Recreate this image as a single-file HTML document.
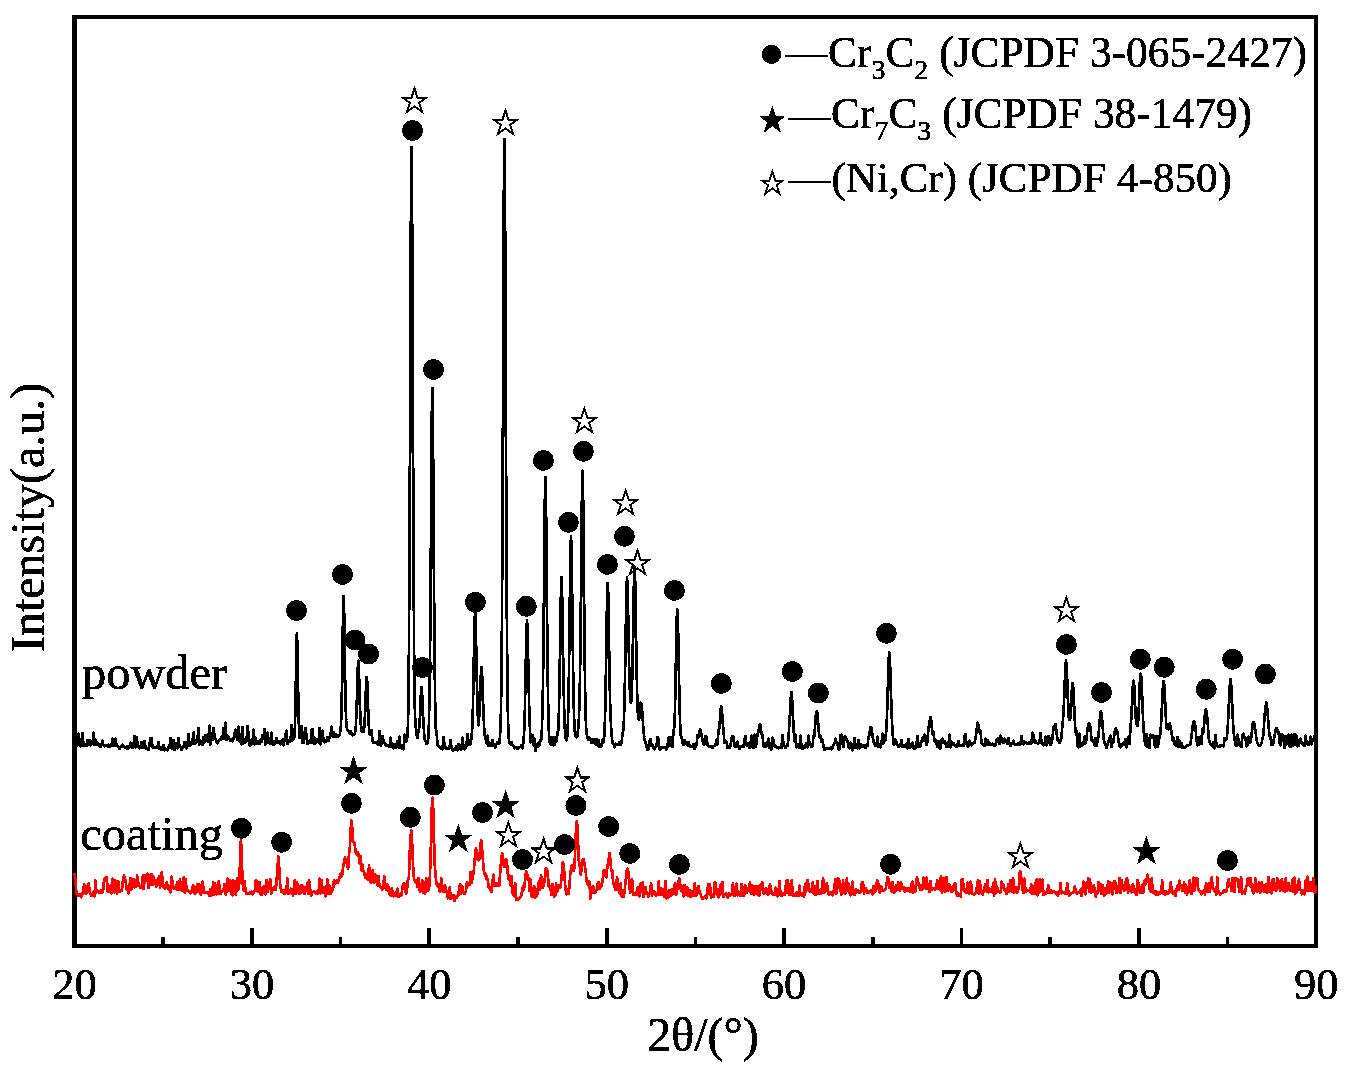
<!DOCTYPE html>
<html><head><meta charset="utf-8"><title>XRD</title>
<style>
html,body{margin:0;padding:0;background:#fff;}
body{width:1348px;height:1071px;overflow:hidden;}
svg{display:block;}
.t{font-family:"Liberation Serif",serif;fill:#000;stroke:#000;stroke-width:0.55px;}
</style></head><body>
<svg width="1348" height="1071" viewBox="0 0 1348 1071">
<defs><filter id="bin" x="0" y="0" width="100%" height="100%" filterUnits="userSpaceOnUse" color-interpolation-filters="sRGB">
<feComponentTransfer><feFuncR type="discrete" tableValues="0 1"/><feFuncG type="discrete" tableValues="0 1"/><feFuncB type="discrete" tableValues="0 1"/></feComponentTransfer>
</filter></defs>
<g filter="url(#bin)">
<rect x="0" y="0" width="1348" height="1071" fill="#fff"/>
<rect x="72" y="15" width="1246" height="4"/>
<rect x="72" y="944" width="1246" height="4"/>
<rect x="72" y="15" width="5" height="933"/>
<rect x="1314" y="15" width="4" height="933"/>
<polyline fill="none" stroke="#000" stroke-width="2.7" stroke-linejoin="round" points="74.5,733.5 75.5,744.9 76.5,746.5 77.5,745.2 78.5,733.7 79.5,744.5 80.5,746.5 81.5,745.2 82.5,732.8 83.5,745.6 84.5,745.4 85.5,744.7 86.5,746.0 87.5,740.2 88.5,744.5 89.5,740.3 90.5,745.6 91.5,742.4 92.5,743.9 93.5,732.7 94.5,745.1 95.5,739.4 96.5,745.1 97.5,742.9 98.5,745.3 99.5,744.9 100.5,746.8 101.5,744.7 102.5,740.6 103.5,745.4 104.5,746.5 105.5,745.6 106.5,745.1 107.5,746.5 108.5,744.7 109.5,746.7 110.5,746.4 111.5,745.3 112.5,738.4 113.5,745.8 114.5,744.0 115.5,738.4 116.5,746.0 117.5,745.7 118.5,747.0 119.5,749.0 120.5,746.9 121.5,746.7 122.5,744.5 123.5,746.5 124.5,747.1 125.5,747.5 126.5,748.5 127.5,746.1 128.5,748.4 129.5,746.8 130.5,742.4 131.5,747.3 132.5,748.0 133.5,745.1 134.5,735.9 135.5,747.6 136.5,736.9 137.5,743.4 138.5,747.6 139.5,748.3 140.5,747.9 141.5,741.9 142.5,746.6 143.5,748.0 144.5,740.9 145.5,748.0 146.5,748.4 147.5,748.3 148.5,749.6 149.5,744.8 150.5,737.8 151.5,737.9 152.5,747.1 153.5,747.7 154.5,747.1 155.5,747.9 156.5,747.0 157.5,747.5 158.5,742.0 159.5,748.8 160.5,747.2 161.5,750.0 162.5,747.2 163.5,744.9 164.5,750.3 165.5,748.6 166.5,749.2 167.5,750.3 168.5,746.7 169.5,747.9 170.5,738.2 171.5,748.2 172.5,748.6 173.5,740.0 174.5,749.9 175.5,743.0 176.5,746.0 177.5,748.2 178.5,738.2 179.5,746.8 180.5,746.3 181.5,749.8 182.5,748.2 183.5,746.9 184.5,741.9 185.5,746.8 186.5,748.2 187.5,744.9 188.5,733.8 189.5,746.0 190.5,745.4 191.5,744.1 192.5,740.8 193.5,732.3 194.5,744.2 195.5,742.9 196.5,742.4 197.5,738.7 198.5,727.9 199.5,744.6 200.5,741.5 201.5,743.0 202.5,744.9 203.5,736.9 204.5,742.3 205.5,734.9 206.5,741.0 207.5,734.5 208.5,741.7 209.5,725.4 210.5,744.6 211.5,733.6 212.5,739.9 213.5,728.1 214.5,736.2 215.5,739.4 216.5,742.1 217.5,743.2 218.5,741.0 219.5,740.2 220.5,739.9 221.5,736.5 222.5,738.2 223.5,728.1 224.5,739.2 225.5,722.6 226.5,740.1 227.5,737.0 228.5,736.5 229.5,739.0 230.5,741.1 231.5,739.4 232.5,741.5 233.5,739.1 234.5,733.2 235.5,729.3 236.5,735.6 237.5,739.9 238.5,726.5 239.5,741.5 240.5,740.2 241.5,744.7 242.5,727.2 243.5,743.3 244.5,741.1 245.5,742.3 246.5,740.8 247.5,726.1 248.5,734.0 249.5,745.6 250.5,744.9 251.5,740.6 252.5,743.3 253.5,729.4 254.5,744.4 255.5,738.2 256.5,743.8 257.5,741.2 258.5,741.7 259.5,743.9 260.5,739.3 261.5,741.8 262.5,735.3 263.5,738.3 264.5,729.0 265.5,744.7 266.5,742.6 267.5,732.7 268.5,742.6 269.5,740.9 270.5,744.1 271.5,732.7 272.5,743.3 273.5,744.6 274.5,744.0 275.5,742.0 276.5,737.8 277.5,743.2 278.5,741.7 279.5,741.3 280.5,744.6 281.5,741.3 282.5,739.4 283.5,745.3 284.5,739.2 285.5,734.6 286.5,730.4 287.5,744.1 288.5,742.5 289.5,740.6 290.5,741.4 291.5,724.8 292.5,740.2 292.9,739.9 293.4,739.4 293.5,739.3 293.9,739.1 294.4,736.5 294.5,735.4 294.9,727.3 295.4,708.0 295.5,702.7 295.9,678.0 296.4,647.5 296.5,642.9 296.9,633.3 297.4,647.1 297.5,652.3 297.9,676.9 298.4,705.9 298.5,710.5 298.9,725.8 299.4,736.5 299.5,737.9 299.9,737.3 300.4,733.9 300.5,733.0 300.9,730.3 301.5,725.8 302.5,743.1 303.5,743.1 304.5,733.9 305.5,728.0 306.5,735.3 307.5,744.1 308.5,742.1 309.5,742.1 310.5,743.1 311.5,730.3 312.5,729.0 313.5,743.4 314.5,737.5 315.5,743.6 316.5,739.5 317.5,741.6 318.5,742.6 319.5,728.2 320.5,744.4 321.5,740.7 322.5,730.6 323.5,739.9 324.5,742.2 325.5,741.9 326.5,739.7 327.5,737.0 328.5,740.8 329.5,737.7 330.5,734.4 331.5,726.4 332.5,736.4 333.5,732.4 334.5,736.7 335.5,733.9 336.5,736.5 337.5,735.9 338.5,736.2 339.1,735.6 339.5,735.0 339.6,734.8 340.1,732.9 340.5,730.1 340.6,729.3 341.1,721.9 341.5,710.1 341.6,705.8 342.1,677.9 342.5,649.5 342.6,642.3 343.1,610.3 343.5,597.5 343.6,596.2 344.1,610.0 344.5,634.7 344.6,641.9 345.1,677.0 345.5,699.5 345.6,704.0 346.1,719.7 346.5,726.0 346.6,727.0 347.1,729.7 347.5,730.4 347.6,730.5 348.1,730.7 348.5,730.8 349.5,733.4 350.5,730.8 351.5,733.0 352.5,735.2 353.5,734.4 353.8,734.5 354.3,734.4 354.5,734.2 354.8,733.4 355.3,731.0 355.5,729.4 355.8,725.9 356.3,716.5 356.5,711.2 356.8,701.7 357.3,683.6 357.5,676.6 357.8,667.3 358.3,660.9 358.5,660.7 358.8,666.7 359.3,683.7 359.5,691.8 359.8,701.9 360.3,715.4 360.5,719.1 360.8,724.4 361.3,730.0 361.5,731.5 361.8,730.8 362.2,729.3 362.3,728.8 362.5,727.8 362.7,728.9 362.8,729.4 363.2,731.1 363.5,731.8 363.7,731.2 364.2,727.7 364.5,723.9 364.7,720.3 365.2,708.4 365.5,699.9 365.7,694.4 366.2,682.6 366.5,678.7 366.7,677.0 367.2,681.5 367.5,687.5 367.7,693.6 368.2,710.0 368.5,719.3 368.7,723.6 369.2,731.3 369.5,734.0 369.7,734.2 370.2,732.9 370.5,731.4 370.7,731.2 371.2,730.6 371.5,730.1 372.5,741.1 373.5,742.7 374.5,742.4 375.5,742.3 376.5,742.3 377.5,744.4 378.5,744.1 379.5,731.0 380.5,745.7 381.5,744.0 382.5,736.2 383.5,740.4 384.5,743.3 385.5,745.3 386.5,744.6 387.5,745.6 388.5,746.6 389.5,747.0 390.5,737.5 391.5,747.2 392.5,743.6 393.5,748.5 394.5,744.3 395.5,748.0 396.5,747.3 397.5,741.0 398.5,747.4 399.5,736.5 400.5,747.9 401.5,747.5 402.5,748.6 403.5,749.6 404.5,734.3 405.5,742.0 406.5,740.9 407.0,739.7 407.5,735.5 408.0,723.1 408.5,695.7 409.0,637.6 409.5,546.9 410.0,430.1 410.5,298.7 411.0,190.0 411.5,146.9 412.0,189.5 412.5,297.6 413.0,430.1 413.5,549.0 414.0,638.0 414.5,693.7 415.0,715.8 415.5,722.4 416.0,730.0 416.5,734.8 417.0,736.6 417.5,737.7 418.0,734.6 418.5,730.4 419.0,729.8 419.5,725.1 420.0,714.3 420.5,702.2 421.0,691.7 421.5,687.1 422.0,691.8 422.5,702.5 423.0,713.8 423.5,723.2 424.0,732.1 424.5,738.2 425.0,740.4 425.5,741.1 426.0,742.6 426.5,743.8 426.8,743.6 427.3,743.0 427.5,742.5 427.8,741.4 428.3,737.9 428.5,735.4 428.8,726.8 429.3,705.2 429.5,693.0 429.8,674.7 430.3,626.6 430.5,601.3 430.8,556.5 431.3,477.5 431.5,448.6 431.8,413.4 432.3,387.8 432.5,392.8 432.8,413.9 433.3,478.3 433.5,509.6 433.8,555.8 434.3,623.6 434.5,645.3 434.8,676.1 435.3,712.7 435.5,723.0 435.8,728.7 436.3,731.2 436.5,730.6 436.8,735.3 437.3,742.1 437.5,744.6 437.8,745.3 438.5,746.6 439.5,746.9 440.5,748.3 441.5,748.6 442.5,749.5 443.5,737.0 444.5,744.8 445.5,748.5 446.5,748.0 447.5,749.0 448.5,749.1 449.5,747.6 450.5,739.9 451.5,747.3 452.5,750.4 453.5,750.0 454.5,749.7 455.5,748.1 456.5,746.1 457.5,750.5 458.5,744.0 459.5,747.0 460.5,749.5 461.5,749.2 462.5,737.3 463.5,748.0 464.5,749.4 465.5,747.9 466.5,745.4 467.5,733.8 468.5,744.7 469.5,744.3 469.6,744.3 470.1,744.6 470.5,744.7 470.6,744.0 471.1,740.2 471.5,736.1 471.6,735.6 472.1,730.6 472.5,722.5 472.6,719.2 473.1,698.5 473.5,677.6 473.6,671.8 474.1,643.0 474.5,623.7 474.6,620.4 475.1,612.6 475.5,619.1 475.6,622.0 476.0,638.3 476.1,643.3 476.5,664.3 476.6,669.6 477.0,689.0 477.1,693.3 477.5,707.3 477.6,710.4 478.0,719.8 478.1,721.6 478.5,725.7 478.6,725.1 479.0,720.4 479.1,718.6 479.5,709.9 479.6,707.8 480.0,698.1 480.1,695.4 480.5,684.4 480.6,681.4 481.0,671.7 481.5,667.1 482.0,672.3 482.5,685.2 483.0,699.8 483.5,712.5 484.0,725.0 484.5,734.2 485.0,737.0 485.5,737.7 486.0,740.7 486.5,743.4 487.0,739.4 487.5,735.3 488.5,746.1 489.5,742.6 490.5,746.2 491.5,746.1 492.5,739.9 493.5,746.2 494.5,745.3 495.5,747.8 496.5,743.5 497.5,741.9 498.5,743.0 498.9,743.3 499.4,743.3 499.5,743.1 499.9,737.9 500.4,728.1 500.5,725.3 500.9,712.8 501.4,682.0 501.5,673.0 501.9,625.6 502.4,535.9 502.5,514.0 502.9,415.7 503.4,285.5 503.5,261.2 503.9,180.7 504.4,139.0 504.5,141.6 504.9,179.5 505.4,281.9 505.5,306.6 505.9,412.7 506.4,535.5 506.5,557.0 506.9,625.6 507.4,681.2 507.5,688.8 507.9,714.3 508.4,732.4 508.5,734.9 508.9,739.5 509.4,742.2 509.5,742.5 509.9,743.5 510.5,744.5 511.5,742.1 512.5,744.7 513.5,746.2 514.5,748.3 515.5,746.9 516.5,746.9 517.5,748.9 518.5,748.1 519.5,747.2 520.5,747.0 521.5,745.2 522.0,746.9 522.5,748.3 523.0,745.0 523.5,740.0 524.0,734.6 524.5,723.5 525.0,703.2 525.5,677.4 526.0,651.0 526.5,629.8 527.0,620.6 527.5,629.3 528.0,650.7 528.5,677.4 529.0,700.5 529.5,716.9 530.0,731.7 530.5,741.7 531.0,742.3 531.5,740.8 532.0,738.0 532.5,734.8 533.5,745.4 534.5,738.4 535.5,750.9 536.5,744.3 537.5,747.0 538.5,742.3 539.5,745.4 539.9,743.3 540.4,740.4 540.5,739.7 540.9,740.2 541.4,739.0 541.5,738.4 541.9,729.4 542.4,711.7 542.5,707.0 542.9,688.0 543.4,650.4 543.5,641.1 543.9,597.7 544.4,541.0 544.5,530.5 544.9,494.9 545.4,477.8 545.5,476.9 545.9,494.1 546.4,539.9 546.5,551.0 546.9,596.6 547.4,649.6 547.5,658.9 547.9,690.3 548.4,716.8 548.5,720.5 548.9,732.0 549.4,739.9 549.5,740.9 549.9,743.2 550.4,744.4 550.5,744.6 550.9,744.9 551.5,745.2 552.5,736.8 553.5,745.3 554.5,744.8 555.5,737.1 556.0,739.3 556.5,741.3 557.0,737.3 557.5,732.3 558.0,732.5 558.5,727.4 559.0,707.5 559.5,679.9 560.0,650.0 560.5,617.0 561.0,587.8 561.5,577.1 562.0,587.7 562.5,616.9 563.0,649.2 563.5,678.0 564.0,703.9 564.5,721.8 565.0,731.9 565.5,737.5 566.0,739.8 566.5,740.3 567.0,738.7 567.5,733.6 568.0,720.3 568.5,698.3 569.0,667.4 569.5,627.2 570.0,584.1 570.5,550.0 571.0,536.0 571.5,549.7 572.0,582.1 572.5,622.7 573.0,662.8 573.5,694.2 574.0,715.2 574.5,727.7 575.0,733.2 575.5,735.5 576.0,736.7 576.5,737.6 577.0,736.7 577.5,735.3 578.0,730.8 578.5,724.5 579.0,716.1 579.5,700.4 580.0,676.4 580.5,637.9 581.0,586.7 581.5,532.0 582.0,488.1 582.5,470.6 583.0,487.0 583.5,528.9 584.0,586.4 584.5,642.2 585.0,683.5 585.5,710.7 586.0,725.6 586.5,732.9 587.0,736.3 587.5,737.8 588.0,739.1 588.5,740.0 589.5,737.6 590.5,738.7 591.5,743.1 592.5,741.7 593.5,739.0 594.5,743.6 595.5,744.5 596.5,738.9 597.5,745.3 598.5,740.2 599.5,746.9 600.5,745.6 601.5,746.6 602.2,741.6 602.5,739.4 602.7,740.3 603.2,742.1 603.5,742.6 603.7,741.6 604.2,736.8 604.5,731.9 604.7,727.2 605.2,710.5 605.5,696.4 605.7,684.7 606.2,651.5 606.5,630.7 606.7,618.1 607.2,592.6 607.5,584.4 607.7,582.9 608.2,592.6 608.5,606.8 608.7,619.0 609.2,653.5 609.5,674.2 609.7,685.0 610.2,705.7 610.5,713.5 610.7,719.1 611.2,728.7 611.5,732.2 611.7,735.0 612.2,740.7 612.5,743.5 612.7,743.7 613.2,743.9 613.5,743.8 614.5,747.4 615.5,743.6 616.5,744.2 617.5,744.6 618.5,744.2 619.5,742.0 620.5,744.7 621.5,743.0 622.0,738.8 622.5,732.9 623.0,731.8 623.5,728.1 624.0,717.3 624.5,700.3 625.0,676.3 625.5,646.2 626.0,614.2 626.5,588.7 627.0,577.3 627.5,585.3 628.0,606.5 628.5,633.9 629.0,660.6 629.1,665.3 629.5,681.2 629.6,684.3 630.0,693.7 630.1,695.9 630.5,701.6 630.6,702.4 631.0,702.8 631.1,702.3 631.5,697.5 631.6,695.7 632.0,685.6 632.1,682.3 632.5,665.5 632.6,659.6 633.1,627.7 633.5,602.0 633.6,596.5 634.1,574.2 634.5,566.4 634.6,568.3 635.1,578.4 635.5,599.3 635.6,605.1 635.8,617.5 636.1,636.9 636.3,649.6 636.5,661.7 636.6,667.4 636.8,678.0 637.1,691.5 637.3,698.9 637.5,704.9 637.6,707.5 637.8,711.9 638.1,716.4 638.3,718.3 638.5,719.3 638.6,719.6 638.8,719.7 639.1,718.9 639.3,717.8 639.5,716.3 639.6,714.9 639.8,712.0 640.1,707.9 640.3,705.5 640.5,703.4 640.8,702.7 641.3,703.1 641.5,704.5 641.8,706.8 642.3,712.9 642.5,715.9 642.8,720.5 643.3,727.6 643.5,730.1 643.8,733.5 644.3,737.7 644.5,739.0 644.8,740.3 645.3,741.7 645.5,742.1 645.8,743.6 646.3,746.1 646.5,747.1 646.8,747.9 647.5,749.7 648.5,748.8 649.5,741.5 650.5,739.1 651.5,745.6 652.5,744.4 653.5,748.1 654.5,749.4 655.5,747.1 656.5,746.3 657.5,737.0 658.5,739.3 659.5,749.0 660.5,749.5 661.5,748.5 662.5,746.8 663.5,747.6 664.5,747.1 665.5,746.8 666.5,749.7 667.5,746.2 668.5,737.4 669.5,745.8 670.5,737.4 671.5,745.4 671.8,746.0 672.3,746.9 672.5,747.2 672.8,742.4 673.3,733.8 673.5,730.0 673.8,730.6 674.3,727.6 674.5,724.5 674.8,714.8 675.3,693.2 675.5,682.9 675.8,665.7 676.3,637.6 676.5,627.7 676.8,616.8 677.3,609.2 677.5,611.0 677.8,617.7 678.3,638.8 678.5,649.3 678.8,665.8 679.3,692.0 679.5,701.2 679.8,713.5 680.3,728.8 680.5,733.3 680.8,735.9 681.3,736.8 681.5,736.4 681.8,738.7 682.3,742.0 682.5,743.1 682.8,743.8 683.5,745.0 684.5,739.8 685.5,743.4 686.5,742.0 687.5,745.7 688.5,742.3 689.5,744.9 690.5,747.1 691.5,746.8 692.5,746.6 693.5,744.0 694.2,747.6 694.5,749.1 694.7,748.6 695.2,747.4 695.5,746.7 695.7,746.5 696.2,745.8 696.5,745.3 696.7,743.2 697.2,738.0 697.5,735.1 697.7,736.1 698.2,737.5 698.5,737.4 698.7,736.3 699.2,733.5 699.5,731.9 699.7,731.1 700.2,729.1 700.5,730.6 700.7,731.2 701.2,733.7 701.5,735.6 701.7,736.7 702.2,738.7 702.5,739.5 702.7,740.7 703.2,743.2 703.5,744.5 703.7,744.7 704.2,744.8 704.5,744.7 704.7,743.0 705.2,738.6 705.5,736.0 705.7,736.2 706.2,736.9 706.5,737.3 707.5,745.0 708.5,746.1 709.5,746.8 710.5,747.0 711.5,746.5 712.5,748.1 713.5,746.4 714.5,745.6 715.2,745.3 715.5,745.2 715.7,744.1 716.2,741.2 716.5,739.4 716.7,740.6 717.2,743.3 717.5,744.5 717.7,741.8 718.2,734.7 718.5,730.2 718.7,730.5 719.2,729.0 719.5,726.6 719.7,723.5 720.2,715.7 720.5,711.7 720.7,709.5 721.2,706.2 721.5,707.4 721.7,708.8 722.2,714.7 722.5,719.2 722.7,721.9 723.2,728.0 723.5,730.8 723.7,733.6 724.2,739.6 724.5,742.7 724.7,742.9 725.2,742.4 725.5,741.7 725.7,741.7 726.2,741.7 726.5,741.6 726.7,742.9 727.2,746.1 727.5,748.1 728.5,747.2 729.5,748.1 730.5,745.6 731.5,737.6 732.5,736.0 733.5,736.4 734.5,746.4 735.5,746.3 736.5,746.5 737.5,741.5 738.5,746.5 739.5,748.8 740.5,747.4 741.5,746.1 742.5,746.4 743.5,746.8 744.5,739.3 745.5,735.8 746.5,745.3 747.5,743.3 748.5,745.4 749.5,748.1 750.5,743.9 751.5,735.3 752.5,746.9 753.5,747.7 754.0,741.2 754.5,734.7 755.0,740.9 755.5,746.9 756.0,745.7 756.5,744.0 757.0,738.9 757.5,733.7 758.0,733.7 758.5,732.1 759.0,727.9 759.5,724.8 760.0,724.2 760.5,725.9 761.0,729.4 761.5,734.0 762.0,735.2 762.5,734.4 763.0,740.3 763.5,746.4 764.0,746.3 764.5,745.8 765.0,746.5 765.5,747.0 766.0,745.0 766.5,743.0 767.5,745.7 768.5,738.5 769.5,748.0 770.5,747.4 771.5,749.7 772.5,737.4 773.5,740.0 774.5,745.9 775.5,746.6 776.5,746.8 777.5,747.7 778.5,748.5 779.5,747.4 780.5,746.9 781.5,747.7 782.5,735.2 783.5,743.9 784.5,746.5 785.4,747.7 785.5,747.8 785.9,747.0 786.4,745.9 786.5,745.6 786.9,746.0 787.4,745.9 787.5,745.8 787.9,743.0 788.4,738.1 788.5,736.9 788.9,731.5 789.4,722.8 789.5,720.8 789.9,713.5 790.4,703.9 790.5,702.2 790.9,695.9 791.4,692.2 791.5,692.8 791.9,695.8 792.4,703.9 792.5,706.0 792.9,714.5 793.4,725.2 793.5,727.2 793.9,734.0 794.4,740.5 794.5,741.5 794.9,739.8 795.4,735.6 795.5,734.6 795.9,739.8 796.4,746.1 796.5,747.3 796.9,746.9 797.4,746.3 797.5,746.1 798.5,747.0 799.5,747.4 800.5,735.7 801.5,746.6 802.5,749.0 803.5,745.9 804.5,747.9 805.5,745.4 806.5,743.1 807.5,747.7 808.5,735.7 809.5,743.6 810.5,745.2 810.8,745.8 811.3,746.8 811.5,747.2 811.8,747.1 812.3,746.6 812.5,746.4 812.8,743.3 813.3,737.9 813.5,735.7 813.8,736.6 814.3,736.5 814.5,735.8 814.8,730.0 815.3,720.8 815.5,717.5 815.8,715.6 816.3,712.8 816.5,712.3 816.8,711.2 817.3,712.8 817.5,714.2 817.8,717.7 818.3,724.9 818.5,728.0 818.8,731.3 819.3,735.6 819.5,736.8 819.8,737.3 820.3,736.6 820.5,735.9 820.8,737.8 821.3,740.9 821.5,742.0 821.8,741.3 822.3,740.1 822.5,739.6 822.8,741.7 823.5,746.7 824.5,750.0 825.5,748.6 826.5,748.1 827.5,748.5 828.5,748.6 829.5,748.7 830.5,747.8 831.5,749.3 832.5,748.0 833.5,744.5 834.5,743.4 835.5,738.7 836.5,741.9 837.5,744.0 838.5,749.1 839.5,749.6 840.5,735.2 841.5,734.7 842.5,742.0 843.5,747.0 844.5,736.8 845.5,736.3 846.5,739.2 847.5,741.6 848.5,746.6 849.5,748.4 850.5,742.6 851.5,746.5 852.5,750.3 853.5,747.7 854.5,738.1 855.5,747.4 856.5,745.5 857.5,748.2 858.5,740.1 859.5,748.4 860.5,744.3 861.5,745.8 862.5,746.8 863.5,744.9 864.5,746.0 865.0,747.0 865.5,748.0 866.0,746.6 866.5,745.0 867.0,745.7 867.5,745.9 868.0,741.6 868.5,737.2 869.0,736.2 869.5,734.2 870.0,729.9 870.5,726.8 871.0,727.2 871.5,728.9 872.0,731.8 872.5,735.6 873.0,738.8 873.5,741.1 874.0,742.8 874.5,743.7 875.0,744.9 875.5,745.8 876.0,745.9 876.5,745.9 877.0,741.1 877.5,736.4 878.5,746.8 879.5,747.0 880.5,747.3 881.5,742.8 882.5,733.6 883.3,741.6 883.5,743.6 883.8,741.3 884.3,737.2 884.5,735.4 884.8,737.5 885.3,739.8 885.5,740.2 885.8,737.5 886.3,730.5 886.5,726.7 886.8,720.0 887.3,705.7 887.5,699.1 887.8,688.5 888.3,671.4 888.5,665.5 888.8,658.2 889.3,652.3 889.5,653.6 889.8,657.8 890.3,671.0 890.5,677.7 890.8,687.8 891.3,704.2 891.5,710.0 891.8,717.7 892.3,727.3 892.5,730.0 892.8,735.1 893.3,741.7 893.5,743.8 893.8,744.4 894.3,744.5 894.5,744.3 894.8,742.9 895.3,740.4 895.5,739.3 896.5,741.9 897.5,745.3 898.5,746.7 899.5,746.6 900.5,744.8 901.5,740.0 902.5,746.8 903.5,745.6 904.5,746.6 905.5,746.3 906.5,743.6 907.5,748.3 908.5,738.8 909.5,748.2 910.5,745.1 911.5,746.5 912.5,742.6 913.5,747.9 914.5,748.6 915.5,748.7 916.5,743.5 917.5,736.2 918.5,746.7 919.5,746.6 920.5,746.6 921.5,741.4 922.5,737.9 923.5,741.0 924.5,734.4 925.0,736.0 925.5,737.5 926.0,741.4 926.5,744.9 927.0,743.4 927.5,741.1 928.0,734.4 928.5,727.8 929.0,726.0 929.5,723.2 930.0,718.8 930.5,717.3 931.0,719.0 931.5,723.8 932.0,729.0 932.5,734.2 933.0,734.2 933.5,731.8 934.0,736.8 934.5,741.4 935.0,740.6 935.5,739.4 936.0,741.6 936.5,743.8 937.5,746.9 938.5,741.0 939.5,748.5 940.5,748.2 941.5,740.2 942.5,738.8 943.5,742.7 944.5,741.1 945.5,743.5 946.5,746.8 947.5,746.8 948.5,745.0 949.5,734.6 950.5,747.4 951.5,742.2 952.5,745.0 953.5,743.0 954.5,745.3 955.5,744.9 956.5,746.9 957.5,745.6 958.5,741.1 959.5,745.8 960.5,745.6 961.5,745.0 962.5,746.0 963.5,746.1 964.5,736.2 965.5,734.1 966.5,744.1 967.5,746.3 968.5,746.6 969.5,740.6 970.5,743.8 971.5,745.3 972.0,744.9 972.5,744.4 973.0,743.4 973.5,742.3 974.0,743.0 974.5,743.1 975.0,741.0 975.5,738.1 976.0,735.1 976.5,731.5 977.0,726.1 977.5,722.5 978.0,724.3 978.5,724.4 979.0,727.7 979.5,732.6 980.0,732.6 980.5,730.7 981.0,736.7 981.5,742.9 982.0,743.9 982.5,744.4 983.0,744.9 983.5,745.4 984.0,745.6 984.5,745.7 985.5,738.5 986.5,745.2 987.5,739.9 988.5,742.4 989.5,744.9 990.5,743.8 991.5,744.7 992.5,743.6 993.5,745.3 994.5,745.8 995.5,745.4 996.5,739.9 997.5,738.4 998.5,738.4 999.5,743.8 1000.5,735.5 1001.5,738.4 1002.5,742.4 1003.5,742.9 1004.5,738.5 1005.5,741.3 1006.5,741.0 1007.5,743.8 1008.5,738.2 1009.5,744.1 1010.5,746.0 1011.5,744.2 1012.5,742.8 1013.5,740.4 1014.5,744.1 1015.5,744.7 1016.5,744.0 1017.5,744.3 1018.5,742.9 1019.5,744.7 1020.5,743.3 1021.5,736.2 1022.5,743.7 1023.5,744.6 1024.5,741.7 1025.5,742.4 1026.5,742.4 1027.5,744.2 1028.5,744.0 1029.5,742.0 1030.5,743.9 1031.5,742.8 1032.5,732.7 1033.5,735.0 1034.5,742.3 1035.5,740.5 1036.5,743.1 1037.5,743.3 1038.5,743.3 1039.5,742.6 1040.5,733.2 1041.5,741.7 1042.5,744.3 1043.5,745.5 1044.5,744.8 1045.5,736.3 1046.5,745.3 1047.5,743.3 1048.5,735.9 1049.0,737.1 1049.5,738.4 1050.0,741.8 1050.5,745.0 1051.0,744.0 1051.5,742.5 1052.0,741.0 1052.5,738.8 1053.0,731.9 1053.5,726.4 1054.0,727.3 1054.5,727.5 1055.0,726.0 1055.5,724.1 1056.0,727.4 1056.5,732.3 1057.0,735.9 1057.5,739.5 1058.0,740.8 1058.5,741.2 1059.0,742.3 1059.5,742.9 1060.0,742.2 1060.5,741.2 1061.0,739.4 1061.5,736.9 1062.0,730.7 1062.5,723.2 1063.0,719.6 1063.5,712.7 1064.0,702.1 1064.5,689.2 1065.0,675.3 1065.5,665.1 1066.0,660.7 1066.1,661.4 1066.5,665.0 1066.6,666.6 1067.0,675.3 1067.1,677.9 1067.5,689.2 1067.6,692.1 1068.0,703.1 1068.1,705.6 1068.5,714.4 1068.6,715.8 1069.0,719.1 1069.1,719.4 1069.5,718.7 1069.6,719.2 1070.0,719.4 1070.1,719.0 1070.5,715.4 1070.6,713.7 1071.0,706.2 1071.1,704.2 1071.5,696.4 1071.6,694.3 1072.0,687.5 1072.1,686.2 1072.5,683.1 1072.6,683.5 1073.1,686.4 1073.5,692.6 1073.6,694.4 1074.1,705.0 1074.5,714.0 1074.6,716.1 1075.1,725.9 1075.5,732.2 1075.6,732.5 1076.1,732.5 1076.5,730.6 1076.6,732.2 1077.1,739.8 1077.5,745.4 1077.6,745.7 1078.1,746.8 1078.5,747.5 1078.6,746.1 1079.1,739.2 1079.5,733.6 1080.5,746.4 1081.5,745.7 1082.5,745.7 1083.0,744.8 1083.5,743.9 1084.0,740.3 1084.5,736.7 1085.0,740.5 1085.5,743.4 1086.0,741.3 1086.5,738.5 1087.0,733.7 1087.5,729.0 1088.0,726.4 1088.5,724.3 1089.0,723.0 1089.5,724.9 1090.0,726.3 1090.5,727.7 1091.0,733.7 1091.5,740.5 1092.0,740.9 1092.5,739.9 1093.0,740.7 1093.5,741.0 1094.0,743.3 1094.4,745.0 1094.5,745.5 1094.9,742.5 1095.0,741.8 1095.4,738.8 1095.5,738.1 1095.9,741.4 1096.4,745.2 1096.5,745.9 1096.9,744.4 1097.4,741.9 1097.5,741.3 1097.9,739.6 1098.4,736.1 1098.5,735.2 1098.9,730.3 1099.4,723.9 1099.5,722.6 1099.9,718.0 1100.4,713.8 1100.5,713.2 1100.9,711.1 1101.4,713.1 1101.5,713.7 1101.9,717.3 1102.4,723.3 1102.5,724.6 1102.9,729.9 1103.4,736.2 1103.5,737.3 1103.9,740.1 1104.4,742.2 1104.5,742.5 1104.9,743.8 1105.4,744.7 1105.5,744.8 1105.9,746.2 1106.4,747.6 1106.5,747.9 1106.9,746.9 1107.4,745.5 1107.5,745.2 1108.5,741.1 1109.3,738.3 1109.5,737.6 1109.8,737.0 1110.3,736.1 1110.5,735.7 1110.8,739.1 1111.3,744.7 1111.5,746.8 1111.8,745.7 1112.3,743.6 1112.5,742.6 1112.8,742.7 1113.3,742.1 1113.5,741.5 1113.8,738.7 1114.3,734.4 1114.5,732.8 1114.8,731.3 1115.3,729.3 1115.5,728.8 1115.8,728.1 1116.3,729.7 1116.5,730.5 1116.8,731.2 1117.3,732.1 1117.5,732.3 1117.8,734.7 1118.3,739.2 1118.5,741.0 1118.8,742.5 1119.3,744.7 1119.5,745.4 1119.8,746.1 1120.3,747.0 1120.5,747.2 1120.8,746.5 1121.3,745.2 1121.5,744.7 1121.8,744.8 1122.3,745.0 1122.5,745.1 1123.5,742.8 1124.5,744.9 1125.5,739.0 1126.5,747.6 1127.0,743.3 1127.5,738.9 1128.0,738.0 1128.5,736.9 1129.0,741.0 1129.5,743.9 1130.0,736.0 1130.5,726.6 1131.0,721.9 1131.5,714.3 1132.0,702.7 1132.5,691.9 1133.0,683.8 1133.5,680.7 1134.0,683.2 1134.2,685.6 1134.5,690.3 1134.7,694.6 1135.0,701.8 1135.2,706.8 1135.5,714.4 1135.7,717.1 1136.0,720.0 1136.2,721.1 1136.5,721.5 1136.7,723.5 1137.0,725.4 1137.2,726.0 1137.5,725.8 1137.7,725.3 1138.0,723.1 1138.2,720.8 1138.5,716.2 1138.7,711.2 1139.0,703.3 1139.2,698.1 1139.5,690.4 1139.7,685.6 1140.0,679.4 1140.2,676.3 1140.5,673.3 1140.7,673.7 1141.2,676.1 1141.5,680.7 1141.7,684.8 1142.2,697.2 1142.5,705.3 1142.7,710.4 1143.2,722.2 1143.5,728.2 1143.7,731.3 1144.2,737.3 1144.5,739.7 1144.7,741.3 1145.2,744.1 1145.5,745.3 1145.7,743.2 1146.2,737.5 1146.5,733.9 1146.7,736.6 1147.2,743.2 1147.5,747.1 1148.5,738.5 1149.5,748.0 1150.5,734.4 1151.5,736.5 1152.5,735.3 1153.5,735.5 1154.5,745.1 1155.5,747.4 1156.5,736.1 1157.1,742.6 1157.5,746.9 1157.6,746.7 1158.1,745.4 1158.5,744.2 1158.6,743.5 1159.1,739.6 1159.5,736.0 1159.6,736.0 1160.1,734.9 1160.5,732.4 1160.6,731.2 1161.1,723.4 1161.5,715.7 1161.6,713.6 1162.1,702.9 1162.5,694.5 1162.6,692.4 1163.1,684.1 1163.3,682.1 1163.5,680.9 1163.6,681.0 1163.8,681.3 1164.1,683.5 1164.3,686.0 1164.5,689.2 1164.6,691.0 1164.8,694.9 1165.1,701.3 1165.3,705.7 1165.5,710.0 1165.6,712.2 1165.8,716.4 1166.1,722.1 1166.3,725.4 1166.5,728.2 1166.6,728.4 1166.8,728.2 1167.1,727.1 1167.3,726.2 1167.5,725.0 1167.6,726.0 1167.8,727.5 1168.1,728.9 1168.3,729.3 1168.5,729.3 1168.6,728.7 1168.8,727.5 1169.1,725.9 1169.3,725.1 1169.5,724.5 1169.6,724.4 1169.8,723.5 1170.1,724.9 1170.3,725.6 1170.5,726.7 1170.8,728.2 1171.3,731.2 1171.5,732.4 1171.8,734.9 1172.3,738.9 1172.5,740.4 1172.8,740.0 1173.3,738.3 1173.5,737.4 1173.8,739.5 1174.3,742.9 1174.5,744.3 1174.8,744.7 1175.3,745.2 1175.5,745.4 1175.8,745.6 1176.3,745.9 1176.5,746.0 1177.5,737.2 1178.5,746.8 1179.5,740.8 1180.5,746.9 1181.5,743.1 1182.5,748.1 1183.5,746.6 1184.5,748.0 1185.5,747.6 1186.5,745.7 1187.2,745.4 1187.5,745.3 1187.7,745.2 1188.2,745.0 1188.5,744.9 1188.7,745.0 1189.2,745.1 1189.5,745.1 1189.7,745.0 1190.2,744.3 1190.5,743.5 1190.7,742.3 1191.2,738.8 1191.5,736.2 1191.7,734.5 1192.2,730.1 1192.5,727.6 1192.7,726.0 1193.2,723.0 1193.5,722.1 1193.7,721.1 1194.2,721.1 1194.5,721.4 1194.7,722.5 1195.2,725.7 1195.5,727.9 1195.7,730.2 1196.2,736.3 1196.5,740.0 1196.7,741.3 1197.2,744.0 1197.5,745.3 1197.7,745.3 1198.2,745.1 1198.5,744.7 1198.7,743.3 1199.2,739.6 1199.3,738.8 1199.5,737.3 1199.7,737.2 1199.8,737.2 1200.2,737.0 1200.3,737.0 1200.5,736.8 1200.8,739.2 1201.3,742.9 1201.5,744.2 1201.8,739.8 1202.3,732.3 1202.5,729.2 1202.8,731.2 1203.3,732.7 1203.5,732.5 1203.8,728.5 1204.3,721.7 1204.5,719.1 1204.8,715.2 1205.3,710.4 1205.5,709.2 1205.8,709.1 1206.3,710.8 1206.5,712.4 1206.8,714.4 1207.3,718.4 1207.5,719.9 1207.8,724.6 1208.3,732.8 1208.5,736.1 1208.8,738.4 1209.3,741.2 1209.5,742.0 1209.8,743.0 1210.3,744.0 1210.5,744.2 1210.8,744.4 1211.3,744.4 1211.5,744.4 1211.8,745.1 1212.3,746.2 1212.5,746.6 1213.5,742.0 1214.5,748.4 1215.5,735.1 1216.5,745.0 1217.5,746.3 1218.5,747.0 1219.5,747.2 1220.5,745.2 1221.5,745.7 1222.5,746.0 1223.5,746.3 1224.0,742.3 1224.5,738.2 1225.0,738.8 1225.5,739.1 1226.0,739.8 1226.5,739.3 1227.0,736.0 1227.5,730.6 1228.0,722.4 1228.5,712.2 1229.0,700.6 1229.5,690.0 1230.0,682.4 1230.5,679.2 1231.0,682.4 1231.5,690.0 1232.0,700.4 1232.5,711.7 1233.0,722.3 1233.5,731.1 1234.0,735.5 1234.5,737.7 1235.0,741.8 1235.5,745.0 1236.0,745.6 1236.5,745.8 1237.0,740.1 1237.5,734.3 1238.5,739.5 1239.5,745.3 1240.5,746.0 1241.5,746.8 1242.5,734.6 1243.5,733.8 1244.5,737.0 1245.5,738.4 1246.5,746.4 1247.0,745.8 1247.5,745.2 1248.0,740.8 1248.5,736.3 1249.0,739.4 1249.5,742.1 1250.0,742.3 1250.5,741.6 1251.0,739.3 1251.5,736.1 1252.0,730.4 1252.5,725.7 1253.0,721.8 1253.5,722.1 1254.0,722.2 1254.5,726.7 1255.0,728.9 1255.5,730.6 1256.0,735.3 1256.5,739.8 1257.0,742.0 1257.5,743.4 1258.0,744.5 1258.5,745.2 1259.0,745.4 1259.4,745.6 1259.5,745.6 1259.9,745.5 1260.0,745.5 1260.4,745.4 1260.5,745.3 1260.9,744.7 1261.4,743.6 1261.5,743.3 1261.9,741.5 1262.4,738.7 1262.5,738.0 1262.9,737.3 1263.4,735.0 1263.5,734.3 1263.9,727.0 1264.4,717.7 1264.5,715.9 1264.9,713.0 1265.4,708.8 1265.5,708.0 1265.9,704.7 1266.4,702.1 1266.5,703.4 1266.9,705.2 1267.4,710.2 1267.5,711.5 1267.9,716.7 1268.4,723.4 1268.5,724.7 1268.9,729.6 1269.4,734.6 1269.5,735.4 1269.9,736.9 1270.4,737.4 1270.5,737.3 1270.9,740.7 1271.4,744.3 1271.5,744.9 1271.9,745.2 1272.4,745.0 1272.5,744.9 1272.9,744.1 1273.4,742.5 1273.5,742.1 1273.9,739.7 1274.4,736.5 1274.5,735.8 1274.9,733.8 1275.4,731.4 1275.5,731.0 1275.9,729.3 1276.4,728.1 1276.5,728.4 1276.9,728.8 1277.4,730.0 1277.5,730.3 1277.9,731.1 1278.4,731.7 1278.5,731.8 1278.9,735.7 1279.4,741.2 1279.5,742.4 1279.9,743.9 1280.4,745.2 1280.5,745.5 1280.9,741.2 1281.4,735.4 1281.5,734.2 1281.9,734.4 1282.4,734.7 1282.5,734.8 1282.9,735.0 1283.4,735.4 1283.5,735.5 1284.5,748.2 1285.5,735.9 1286.5,744.5 1287.5,743.4 1288.5,734.4 1289.5,746.0 1290.5,747.0 1291.5,734.6 1292.5,745.5 1293.5,745.7 1294.5,734.1 1295.5,744.3 1296.5,735.3 1297.5,746.5 1298.5,745.8 1299.5,741.1 1300.5,738.7 1301.5,743.0 1302.5,744.3 1303.5,745.5 1304.5,746.2 1305.5,735.5 1306.5,743.2 1307.5,742.9 1308.5,744.9 1309.5,743.3 1310.5,736.5 1311.5,744.4 1312.5,739.6 1313.5,739.1 1314.5,735.5 1315.5,743.3"/>
<polyline fill="none" stroke="#f00" stroke-width="2.7" stroke-linejoin="round" points="74.5,873.0 75.5,880.8 76.4,893.8 77.3,893.2 78.3,895.8 79.2,894.6 80.2,895.0 81.2,897.3 82.1,893.5 83.0,893.5 84.0,884.3 85.0,885.2 85.9,893.7 86.8,892.2 87.8,885.6 88.8,883.5 89.7,892.7 90.7,894.3 91.6,895.8 92.5,895.0 93.5,891.4 94.5,896.5 95.4,880.4 96.3,892.2 97.3,890.8 98.2,892.2 99.2,893.1 100.2,891.1 101.1,890.4 102.0,892.7 103.0,891.1 104.0,880.4 104.9,878.0 105.8,877.9 106.8,877.4 107.8,891.9 108.7,889.6 109.7,891.5 110.6,885.4 111.5,893.5 112.5,878.5 113.5,890.6 114.4,892.3 115.3,880.1 116.3,884.8 117.2,893.5 118.2,881.4 119.2,891.1 120.1,892.0 121.0,890.7 122.0,890.2 123.0,878.9 123.9,875.6 124.8,877.8 125.8,882.8 126.8,889.9 127.7,890.0 128.7,893.4 129.6,884.4 130.6,877.8 131.5,889.5 132.4,880.4 133.4,878.9 134.3,887.4 135.3,884.2 136.2,886.7 137.2,875.7 138.2,881.6 139.1,884.9 140.1,887.7 141.0,887.5 141.9,888.2 142.9,875.0 143.8,888.4 144.8,875.1 145.8,880.4 146.7,879.0 147.7,873.6 148.6,887.8 149.6,883.7 150.5,875.2 151.4,873.8 152.4,885.2 153.3,876.0 154.3,882.6 155.2,880.7 156.2,887.1 157.2,880.3 158.1,879.1 159.1,876.1 160.0,887.5 160.9,875.1 161.9,872.4 162.8,886.4 163.8,885.2 164.8,888.4 165.7,887.6 166.7,882.3 167.6,886.3 168.6,889.1 169.5,886.8 170.4,892.3 171.4,876.7 172.3,881.1 173.3,888.5 174.2,888.6 175.2,888.0 176.2,889.3 177.1,882.2 178.1,890.0 179.0,889.4 179.9,879.5 180.9,887.5 181.8,890.7 182.8,884.9 183.8,877.0 184.7,892.8 185.7,879.4 186.6,890.3 187.6,889.6 188.5,891.2 189.4,891.1 190.4,893.3 191.3,892.8 192.3,888.5 193.2,885.4 194.2,892.0 195.2,893.8 196.1,890.0 197.1,884.6 198.0,891.3 198.9,884.2 199.9,888.0 200.8,895.2 201.8,885.7 202.8,881.6 203.7,892.8 204.7,892.3 205.6,892.9 206.6,893.0 207.5,892.3 208.4,892.8 209.4,896.2 210.3,889.0 211.3,895.8 212.2,894.0 213.2,882.4 214.2,894.3 215.1,883.4 216.1,891.0 217.0,894.3 217.9,889.2 218.9,880.8 219.8,893.6 220.8,893.6 221.8,892.1 222.7,890.9 223.7,889.4 224.6,883.9 225.6,894.6 226.5,891.5 227.4,878.6 228.4,890.4 229.3,890.9 230.3,880.0 231.2,893.7 232.2,895.3 233.2,880.1 234.1,882.2 235.1,892.8 236.0,894.6 236.9,878.7 237.4,883.6 237.9,888.4 238.4,889.7 238.8,888.9 238.9,888.3 239.4,879.9 239.8,868.7 239.9,865.5 240.4,849.1 240.8,841.9 240.9,840.3 241.4,847.5 241.7,856.1 241.9,863.0 242.4,877.3 242.7,882.1 242.9,885.3 243.4,889.2 243.6,890.3 243.9,887.8 244.4,882.8 244.6,881.1 245.5,890.9 246.4,894.1 247.4,893.5 248.3,893.6 249.3,892.9 250.2,893.1 251.2,891.7 252.2,894.3 253.1,893.8 254.1,892.0 255.0,889.7 255.9,879.9 256.9,881.9 257.9,892.2 258.8,890.7 259.8,882.0 260.7,894.8 261.6,894.6 262.6,890.8 263.6,886.4 264.5,893.1 265.4,894.2 266.4,880.0 267.4,892.1 268.3,883.9 269.2,884.1 270.2,879.1 271.1,893.9 272.1,890.7 273.1,887.8 274.0,886.8 274.9,889.7 274.9,889.9 275.4,890.0 275.9,889.4 276.4,883.3 276.9,876.4 276.9,876.2 277.4,870.8 277.8,864.4 277.9,862.5 278.4,856.3 278.8,859.9 278.9,862.1 279.4,872.1 279.7,877.9 279.9,881.2 280.4,886.6 280.6,888.0 280.9,889.4 281.4,891.3 281.6,892.0 281.9,892.2 282.6,892.6 283.5,889.8 284.4,894.1 285.4,892.7 286.4,891.9 287.3,878.4 288.2,894.1 289.2,893.7 290.1,892.4 291.1,888.7 292.1,890.8 293.0,895.6 293.9,891.2 294.9,879.8 295.9,893.7 296.8,882.0 297.8,885.5 298.7,893.7 299.6,886.2 300.6,893.4 301.6,885.2 302.5,886.3 303.4,892.2 304.4,894.2 305.4,887.4 306.3,890.6 307.2,883.2 308.2,894.1 309.1,880.5 310.1,888.9 311.1,896.2 312.0,892.0 312.9,892.1 313.9,891.4 314.9,892.0 315.8,893.9 316.8,891.6 317.7,893.7 318.6,893.2 319.6,878.7 320.6,893.5 321.5,880.2 322.4,887.8 323.4,892.7 324.4,887.4 325.3,896.3 326.2,895.2 327.2,879.1 328.1,883.7 329.1,894.1 330.1,886.7 331.0,893.5 331.9,889.1 332.9,890.2 333.9,880.3 334.8,883.7 335.8,881.8 336.7,880.1 337.6,882.5 338.6,880.6 339.6,877.4 340.5,873.7 341.0,875.2 341.4,876.6 341.5,876.5 342.0,875.5 342.4,874.3 342.5,873.2 343.0,867.9 343.4,864.4 343.5,864.3 344.0,863.0 344.3,861.8 344.5,860.4 345.0,857.1 345.2,858.3 345.5,858.6 346.0,860.2 346.2,860.9 346.5,862.6 346.9,864.6 347.0,865.0 347.1,865.6 347.4,866.7 347.5,867.1 347.9,868.3 348.0,868.5 348.1,868.7 348.4,864.0 348.5,862.4 348.9,855.6 349.0,853.9 349.1,853.0 349.4,852.1 349.5,851.4 349.9,846.8 350.0,845.2 350.4,836.0 350.9,825.7 350.9,824.9 351.4,820.4 351.9,822.7 352.4,830.8 352.9,838.3 352.9,838.9 353.0,839.8 353.4,842.3 353.5,842.6 353.8,842.9 353.9,843.0 354.0,843.1 354.4,843.0 354.5,844.1 354.8,845.3 354.9,846.2 355.0,846.9 355.4,850.0 355.5,850.7 355.7,852.1 355.9,853.4 356.0,853.8 356.4,854.3 356.5,854.3 356.6,854.2 356.9,853.3 357.0,852.9 357.4,852.1 357.5,852.4 357.6,852.0 357.9,852.5 358.0,852.7 358.4,853.9 358.5,854.2 358.6,854.4 358.9,857.4 359.0,858.4 359.5,863.4 360.0,860.4 360.4,855.9 360.5,856.6 361.0,863.9 361.4,870.4 361.5,869.7 362.0,866.3 362.4,864.1 363.3,870.8 364.2,872.7 365.2,877.9 366.1,874.0 367.1,878.5 368.1,880.2 369.0,865.7 369.9,873.2 370.9,883.0 371.9,878.5 372.8,869.9 373.8,882.3 374.7,881.7 375.6,874.6 376.6,878.2 377.6,885.3 378.5,876.0 379.4,885.3 380.4,887.1 381.4,887.4 382.3,889.8 383.2,888.0 384.2,876.0 385.1,885.8 386.1,889.5 387.1,884.0 388.0,885.4 388.9,892.0 389.9,894.6 390.9,895.5 391.8,888.2 392.8,894.4 393.7,896.3 394.6,895.6 395.6,892.4 396.6,895.5 397.5,888.4 398.4,896.9 399.4,895.9 400.4,894.7 401.3,895.3 402.2,889.4 403.2,883.6 404.1,883.3 405.1,889.5 406.1,893.8 406.2,893.2 406.7,891.3 407.0,890.1 407.2,887.8 407.7,881.9 407.9,878.8 408.2,879.6 408.7,878.7 408.9,877.2 409.2,868.6 409.7,853.6 409.9,849.1 410.2,843.3 410.7,835.8 410.8,834.8 411.2,830.2 411.7,835.0 411.8,835.8 412.2,844.9 412.7,857.3 413.2,868.2 413.6,875.5 413.7,876.0 414.2,879.4 414.6,880.2 414.7,880.6 415.2,881.8 415.6,882.3 415.7,881.8 416.2,880.5 416.5,880.1 417.4,886.7 418.4,877.9 419.4,890.1 420.3,891.4 421.2,890.9 422.2,880.0 423.1,892.5 424.1,893.0 425.1,893.5 426.0,878.3 426.9,891.4 427.0,890.8 427.5,884.1 427.9,878.8 428.0,880.2 428.5,886.6 428.9,890.2 429.0,889.0 429.5,883.0 429.8,877.8 430.0,873.3 430.5,858.7 430.8,849.6 431.0,839.6 431.5,819.0 431.7,811.6 432.0,803.4 432.5,797.3 432.6,798.8 433.0,803.3 433.5,817.2 433.6,820.4 434.0,837.7 434.5,858.5 434.6,860.4 435.0,869.0 435.5,872.7 436.0,879.6 436.4,884.3 436.5,884.5 437.0,885.5 437.4,885.9 437.5,885.7 438.0,884.6 438.4,884.2 439.3,891.1 440.2,891.9 441.2,877.9 442.1,886.2 443.1,891.9 444.1,892.2 445.0,885.3 445.9,889.5 446.9,892.2 447.9,898.3 448.8,896.2 449.8,887.1 450.7,899.2 451.6,897.9 452.6,897.0 453.6,894.8 454.5,900.7 455.4,896.2 456.4,897.9 457.4,896.3 458.3,895.7 459.2,888.2 460.2,883.8 461.1,893.9 462.1,885.9 463.1,892.8 464.0,893.8 464.9,893.5 465.9,891.9 466.9,882.2 467.8,886.2 468.8,884.8 469.7,884.6 470.5,874.0 470.6,872.0 471.0,876.1 471.5,881.9 471.6,883.0 472.0,881.2 472.5,878.6 472.6,878.3 473.0,876.2 473.5,872.8 474.0,868.4 474.4,863.2 474.5,862.5 475.0,855.5 475.4,851.3 475.5,850.6 475.6,850.0 476.0,847.9 476.1,849.0 476.4,850.0 476.5,850.7 476.6,851.3 477.0,854.6 477.1,855.5 477.3,857.3 477.5,858.4 477.6,858.8 478.0,859.3 478.1,859.1 478.2,858.5 478.5,859.6 478.6,860.0 479.0,860.3 479.1,860.0 479.2,859.5 479.5,857.3 479.6,856.3 480.0,851.7 480.1,850.5 480.1,849.9 480.5,844.9 480.6,843.8 481.0,841.0 481.1,840.0 481.5,842.4 481.6,843.2 482.1,848.7 482.1,849.3 482.6,856.2 483.0,861.1 483.1,862.4 483.6,868.1 483.9,871.1 484.1,872.0 484.6,874.4 484.9,875.4 485.1,875.2 485.6,874.5 485.9,874.0 486.1,875.0 486.6,878.2 486.8,879.5 487.8,879.3 488.7,887.3 489.6,887.3 490.6,890.3 491.6,891.9 492.5,881.8 493.4,874.5 494.4,885.6 495.4,886.0 496.3,886.0 496.7,884.7 497.2,883.1 497.2,883.0 497.7,884.3 498.2,885.1 498.7,886.2 499.1,886.1 499.2,885.6 499.7,879.6 500.1,874.1 500.2,872.7 500.7,865.5 501.1,860.5 501.2,859.3 501.7,855.8 502.0,854.7 502.2,852.8 502.7,855.1 502.9,856.7 503.2,859.1 503.7,864.2 503.9,866.1 504.2,867.2 504.7,865.7 504.9,865.0 505.2,863.5 505.7,861.3 505.8,860.9 506.2,859.5 506.7,860.7 506.8,860.9 507.2,865.6 507.7,872.5 508.2,876.7 508.6,879.4 508.7,879.3 509.2,877.8 509.6,875.5 509.7,876.4 510.2,881.3 510.6,885.2 510.7,883.8 511.2,879.1 511.5,876.2 511.7,879.6 512.5,892.4 513.4,895.3 514.4,896.4 515.3,883.3 516.2,899.5 517.2,899.1 518.1,900.0 519.1,897.9 520.0,897.2 521.0,896.2 521.5,894.0 522.0,892.0 522.0,891.6 522.5,888.9 522.9,886.7 523.0,887.2 523.5,889.3 523.9,889.9 524.0,889.0 524.5,885.5 524.8,883.1 525.0,880.8 525.5,875.5 525.8,873.3 526.0,872.4 526.5,871.2 526.7,872.4 527.0,873.3 527.5,876.3 527.6,877.4 528.0,878.4 528.5,878.4 528.6,878.1 529.0,883.3 529.5,890.3 529.5,891.0 530.0,885.5 530.5,879.3 531.0,888.2 531.5,896.5 531.5,896.5 532.0,896.7 532.4,896.7 533.4,889.1 534.3,886.5 535.2,897.9 536.2,896.5 537.1,895.5 538.1,885.1 539.0,881.3 540.0,890.0 540.9,876.1 541.0,875.3 541.4,878.2 541.9,881.4 542.4,884.8 542.9,887.5 542.9,887.4 543.4,886.5 543.8,885.2 543.9,884.5 544.4,880.8 544.8,877.9 544.9,876.0 545.4,870.4 545.7,867.9 545.9,867.8 546.4,869.2 546.6,869.2 546.9,869.5 547.4,870.6 547.6,871.1 547.9,875.0 548.4,882.9 548.5,885.6 548.9,886.4 549.4,886.2 549.5,886.0 549.9,886.7 550.4,887.8 550.5,887.9 550.9,891.4 551.4,895.2 551.9,889.3 552.4,883.9 553.3,891.5 554.2,896.9 555.2,895.3 556.1,883.5 557.1,892.2 557.7,888.0 558.0,885.5 558.2,885.6 558.7,885.7 559.0,885.6 559.2,886.4 559.7,887.8 560.0,888.1 560.2,887.3 560.7,884.7 560.9,883.2 561.2,880.4 561.7,874.9 561.9,873.2 562.2,868.1 562.7,862.8 562.8,862.0 563.2,863.1 563.7,866.1 563.8,866.6 564.2,871.9 564.7,879.2 565.2,885.3 565.6,889.7 565.7,890.0 566.2,892.9 566.4,893.7 566.6,894.2 566.7,894.0 566.9,893.4 567.2,891.7 567.4,890.3 567.5,889.1 567.7,890.1 567.9,891.2 568.2,892.7 568.4,893.5 568.5,893.8 568.7,892.5 568.9,891.0 569.4,886.8 569.5,886.4 569.9,879.1 570.4,871.7 570.9,870.2 571.3,868.6 571.4,868.4 571.4,868.0 571.8,865.6 571.9,865.4 572.3,864.9 572.4,865.2 572.8,867.3 572.9,868.0 573.2,870.2 573.3,870.4 573.4,870.7 573.8,870.9 573.9,870.6 574.2,868.9 574.3,867.8 574.4,866.5 574.8,859.4 574.9,857.2 575.1,851.4 575.3,847.5 575.4,844.8 575.8,834.3 575.9,831.9 576.1,827.5 576.3,824.6 576.4,823.5 576.8,820.9 576.9,822.0 577.0,823.0 577.3,825.9 577.4,827.5 577.8,835.9 577.9,838.4 578.0,841.0 578.3,848.6 578.4,851.1 578.8,860.2 578.9,862.2 579.0,863.2 579.3,865.8 579.4,866.1 579.8,865.4 579.9,864.8 580.3,870.3 580.4,871.4 580.8,874.8 580.9,875.1 580.9,874.6 581.3,870.2 581.4,869.1 581.8,864.7 581.9,864.1 582.3,861.6 582.4,861.0 582.8,859.2 582.9,858.8 583.4,858.9 583.7,860.0 583.9,860.6 584.4,863.3 584.6,864.8 584.9,866.6 585.4,869.6 585.6,870.6 585.9,874.0 586.4,879.5 586.5,881.1 586.9,881.8 587.4,884.0 587.5,884.5 587.9,884.5 588.4,884.4 588.5,884.4 588.9,882.9 589.4,881.2 590.4,898.7 591.3,891.9 592.2,887.2 593.2,886.0 594.1,892.7 595.1,892.3 596.0,891.1 597.0,889.5 598.0,882.3 598.9,882.1 599.4,885.7 599.9,888.7 599.9,888.6 600.4,887.4 600.8,886.3 600.9,886.3 601.4,886.0 601.8,885.4 601.9,884.7 602.4,882.0 602.7,880.1 602.9,877.7 603.4,872.6 603.6,870.7 603.9,870.4 604.0,870.2 604.4,871.9 604.5,870.3 604.6,870.4 604.9,871.1 605.0,871.5 605.4,873.2 605.5,873.7 605.5,873.9 605.9,875.5 606.0,875.9 606.4,877.3 606.5,877.6 606.9,872.6 607.0,871.1 607.4,865.1 607.5,864.3 607.5,864.5 607.9,864.6 608.0,864.3 608.4,862.3 608.5,861.1 608.9,857.2 609.0,856.5 609.4,854.9 609.4,854.8 609.5,853.1 609.9,855.9 610.0,856.6 610.3,859.3 610.5,861.5 611.0,867.4 611.2,870.3 611.5,871.3 612.0,871.0 612.2,870.0 612.5,874.3 613.0,881.4 613.1,883.7 613.5,883.7 614.0,883.2 614.1,883.0 614.5,885.8 615.0,889.3 615.0,889.6 616.0,889.9 617.0,877.3 617.9,881.7 618.9,891.9 619.8,894.1 620.8,883.6 621.7,896.3 621.8,895.8 622.3,893.5 622.6,891.9 622.8,892.8 623.3,895.7 623.6,897.1 623.8,896.2 624.3,893.4 624.5,891.7 624.8,889.3 625.3,883.9 625.5,881.6 625.8,879.1 626.3,874.8 626.5,873.6 626.8,870.7 627.3,869.3 627.4,868.6 627.8,869.3 628.3,871.5 628.4,871.7 628.8,877.3 629.3,884.5 629.8,889.1 630.2,892.5 630.3,892.3 630.8,889.3 631.2,885.9 631.3,885.2 631.8,881.9 632.1,879.3 632.3,881.7 632.8,889.8 633.1,894.6 634.0,894.2 635.0,894.6 636.0,892.2 636.9,895.2 637.9,887.1 638.8,895.0 639.8,896.4 640.7,883.3 641.6,883.7 642.6,882.3 643.5,897.0 644.5,891.6 645.5,887.0 646.4,893.6 647.4,893.0 648.3,896.8 649.2,894.0 650.2,891.1 651.1,883.2 652.1,895.6 653.0,890.9 654.0,891.0 655.0,892.1 655.9,895.8 656.9,894.8 657.8,894.4 658.8,881.5 659.7,894.0 660.6,894.9 661.6,888.7 662.5,889.0 663.5,895.3 664.5,896.8 665.4,880.9 666.4,898.3 667.3,895.0 668.2,897.7 669.2,890.0 670.1,895.5 671.1,896.2 672.0,889.1 673.0,890.6 674.0,893.5 674.8,884.3 674.9,883.2 675.3,888.0 675.8,893.6 675.9,894.1 676.3,894.5 676.8,894.2 677.3,888.7 677.8,884.0 677.8,884.0 678.3,882.9 678.7,881.4 678.8,880.8 679.3,878.3 679.6,879.4 679.8,880.3 680.3,884.8 680.6,888.0 680.8,889.2 681.3,891.0 681.5,891.2 681.8,890.5 682.3,887.7 682.5,886.3 682.8,889.3 683.3,894.6 683.5,896.3 683.8,892.2 684.4,884.9 685.4,886.6 686.3,894.9 687.2,887.6 688.2,895.9 689.1,896.2 690.1,890.3 691.0,897.1 692.0,895.8 693.0,895.9 693.9,890.6 694.9,883.2 695.8,896.0 696.8,894.9 697.7,890.7 698.6,885.8 699.6,893.4 700.5,893.4 701.5,897.5 702.5,898.9 703.4,898.0 704.4,897.1 705.3,895.6 706.2,898.4 707.2,895.1 708.1,884.3 709.1,891.7 710.0,884.6 711.0,898.1 712.0,894.5 712.9,894.2 713.9,896.3 714.8,881.9 715.8,883.3 716.7,894.4 717.6,889.5 718.6,897.3 719.5,893.2 720.5,884.7 721.5,894.1 722.4,882.1 723.4,896.9 724.3,894.8 725.2,894.4 726.2,893.3 727.1,896.5 728.1,897.4 729.0,893.5 730.0,895.7 731.0,895.0 731.9,894.7 732.9,883.1 733.8,895.8 734.8,895.4 735.7,892.2 736.6,883.7 737.6,895.3 738.5,894.0 739.5,893.0 740.5,896.2 741.4,884.1 742.4,888.9 743.3,896.1 744.2,894.5 745.2,885.6 746.1,890.1 747.1,892.3 748.0,887.9 749.0,888.7 750.0,882.0 750.9,894.0 751.9,885.7 752.8,891.2 753.8,895.1 754.7,886.4 755.6,893.8 756.6,893.4 757.5,885.8 758.5,895.3 759.5,895.6 760.4,884.8 761.4,888.7 762.3,882.1 763.2,893.1 764.2,893.4 765.1,892.9 766.1,887.9 767.0,893.5 768.0,894.5 769.0,894.1 769.9,884.0 770.9,889.9 771.8,892.5 772.8,894.7 773.7,893.4 774.6,895.2 775.6,887.6 776.5,893.2 777.5,896.5 778.5,894.7 779.4,881.1 780.4,893.1 781.3,895.7 782.2,893.6 783.2,895.2 784.1,893.4 785.1,894.3 786.0,883.2 787.0,879.8 788.0,880.4 788.9,894.5 789.9,893.8 790.8,894.8 791.8,879.8 792.7,894.1 793.6,895.9 794.6,893.9 795.5,896.0 796.5,892.6 797.5,893.5 798.4,895.9 799.4,885.7 800.3,893.9 801.2,895.3 802.2,894.7 803.1,893.5 804.1,897.2 805.0,884.4 806.0,891.7 807.0,880.7 807.9,880.6 808.9,889.4 809.8,891.4 810.8,892.2 811.7,891.5 812.6,882.3 813.6,893.4 814.5,886.6 815.5,895.0 816.5,889.3 817.4,880.8 818.4,893.6 819.3,891.1 820.2,894.1 821.2,893.5 822.1,885.9 823.1,878.5 824.0,892.5 825.0,891.9 826.0,884.2 826.9,883.3 827.9,891.3 828.8,894.5 829.8,892.1 830.7,893.6 831.6,892.7 832.6,895.3 833.5,892.2 834.5,885.7 835.5,878.8 836.4,893.7 837.4,887.8 838.3,878.2 839.2,880.0 840.2,886.6 841.1,894.3 842.1,893.5 843.0,880.4 844.0,892.8 845.0,893.9 845.9,890.9 846.9,878.2 847.8,890.7 848.8,883.9 849.7,893.8 850.6,895.3 851.6,892.3 852.5,881.4 853.5,893.2 854.5,894.9 855.4,892.9 856.4,889.4 857.3,891.9 858.2,890.5 859.2,893.0 860.1,892.4 861.1,890.9 862.0,881.8 863.0,882.2 864.0,893.5 864.9,891.1 865.9,887.9 866.8,891.2 867.8,893.2 868.7,892.8 869.6,890.9 870.6,891.1 871.5,890.0 872.5,894.4 873.5,885.8 874.4,892.1 875.4,891.4 876.3,884.8 877.2,880.0 878.2,883.5 879.1,892.1 880.1,892.4 881.0,886.0 882.0,889.6 883.0,891.2 883.6,890.5 883.9,890.1 884.1,890.2 884.6,890.2 884.9,890.1 885.1,889.9 885.6,888.8 885.8,888.2 886.1,886.1 886.6,882.5 886.8,881.4 887.1,879.0 887.6,878.3 887.7,876.8 888.1,878.1 888.6,880.7 888.6,881.0 889.1,884.3 889.6,887.8 890.1,886.1 890.5,883.4 890.6,883.7 891.1,888.0 891.5,891.7 891.6,890.7 892.5,881.8 893.4,892.1 894.4,892.4 895.3,890.8 896.2,885.5 897.2,890.2 898.1,882.6 899.1,889.2 900.0,891.2 901.0,881.8 902.0,888.4 902.9,888.7 903.9,887.2 904.8,891.7 905.8,888.8 906.7,890.6 907.6,888.1 908.6,888.3 909.5,891.5 910.5,892.2 911.5,883.9 912.4,881.6 913.4,892.7 914.3,890.7 915.2,891.3 916.2,881.4 917.1,877.4 918.1,884.2 919.0,883.4 920.0,890.0 921.0,885.1 921.9,889.8 922.9,888.2 923.8,877.5 924.8,879.3 925.7,889.0 926.6,877.7 927.6,887.7 928.5,888.8 929.5,891.8 930.5,881.2 931.4,889.7 932.4,889.3 933.3,888.7 934.2,888.5 935.2,889.9 936.1,888.7 937.1,880.7 938.0,888.6 939.0,881.4 940.0,889.6 940.9,876.3 941.9,892.5 942.8,886.0 943.8,877.9 944.7,891.3 945.6,891.4 946.6,877.1 947.5,890.4 948.5,890.5 949.5,884.7 950.4,887.0 951.4,892.0 952.3,892.0 953.2,886.3 954.2,884.4 955.1,882.9 956.1,894.0 957.0,895.3 958.0,892.9 959.0,895.3 959.9,894.4 960.9,896.4 961.8,878.9 962.8,879.1 963.7,888.2 964.6,890.9 965.6,892.3 966.5,893.1 967.5,882.6 968.5,891.2 969.4,893.6 970.4,881.7 971.3,884.4 972.2,894.0 973.2,894.3 974.1,894.3 975.1,894.1 976.0,892.7 977.0,885.9 978.0,880.5 978.9,893.9 979.9,881.7 980.8,891.5 981.8,892.8 982.7,894.8 983.6,891.3 984.6,887.5 985.5,884.0 986.5,891.2 987.5,880.0 988.4,892.5 989.4,889.1 990.3,891.8 991.2,891.6 992.2,892.2 993.1,883.1 994.1,895.6 995.0,879.2 996.0,892.9 997.0,886.2 997.9,892.1 998.9,891.3 999.8,892.3 1000.8,892.3 1001.7,881.6 1002.6,886.2 1003.6,884.5 1004.5,890.1 1005.5,890.6 1006.5,893.8 1007.4,889.5 1008.4,884.1 1009.3,891.7 1010.2,880.2 1011.2,887.3 1012.1,891.8 1013.1,878.0 1014.0,892.5 1015.0,891.2 1016.0,887.1 1016.3,889.5 1016.8,892.6 1016.9,893.1 1017.3,892.2 1017.8,890.8 1017.9,890.7 1018.3,889.6 1018.8,886.6 1019.3,878.7 1019.8,872.3 1019.8,872.0 1020.3,871.3 1020.7,873.8 1020.8,874.4 1021.3,878.1 1021.6,880.1 1021.8,881.8 1022.3,886.9 1022.6,889.6 1022.8,890.4 1023.3,892.2 1023.5,893.0 1023.8,889.5 1024.3,881.9 1024.5,878.7 1025.5,892.1 1026.4,890.4 1027.3,891.0 1028.3,890.5 1029.2,890.2 1030.2,892.1 1031.2,884.0 1032.1,893.5 1033.0,889.2 1034.0,893.8 1035.0,883.2 1035.9,893.1 1036.8,879.0 1037.8,895.5 1038.8,891.2 1039.7,879.3 1040.7,891.4 1041.6,882.6 1042.5,879.3 1043.5,895.2 1044.5,891.6 1045.4,893.7 1046.3,893.3 1047.3,892.9 1048.2,885.4 1049.2,893.2 1050.2,891.9 1051.1,890.1 1052.0,893.1 1053.0,891.9 1054.0,891.9 1054.9,891.6 1055.8,893.3 1056.8,892.1 1057.8,895.4 1058.7,894.0 1059.7,891.9 1060.6,883.1 1061.5,893.5 1062.5,892.5 1063.5,892.2 1064.4,892.2 1065.3,893.5 1066.3,893.6 1067.2,883.0 1068.2,890.3 1069.2,895.4 1070.1,893.2 1071.0,893.4 1072.0,892.8 1073.0,892.1 1073.9,891.9 1074.8,885.8 1075.8,891.6 1076.8,893.8 1077.7,892.3 1078.7,892.7 1079.6,891.9 1080.5,889.4 1081.5,895.9 1082.5,890.0 1083.4,881.6 1084.3,886.1 1085.3,894.4 1086.2,883.7 1087.2,886.1 1088.2,878.6 1089.1,891.6 1090.0,879.7 1091.0,892.8 1092.0,891.9 1092.9,891.9 1093.8,885.4 1094.8,889.7 1095.8,896.9 1096.7,892.7 1097.7,893.4 1098.6,882.1 1099.5,890.1 1100.5,884.1 1101.5,894.0 1102.4,884.9 1103.3,891.6 1104.3,895.7 1105.2,888.6 1106.2,893.4 1107.2,892.4 1108.1,881.0 1109.0,892.5 1110.0,882.7 1111.0,883.7 1111.9,893.1 1112.8,894.4 1113.8,882.0 1114.8,881.1 1115.7,884.1 1116.7,893.0 1117.6,891.9 1118.5,891.6 1119.5,878.0 1120.5,892.8 1121.4,880.0 1122.3,884.2 1123.3,888.4 1124.2,890.6 1125.2,884.8 1126.2,879.5 1127.1,878.4 1128.0,892.9 1129.0,885.6 1130.0,888.4 1130.9,889.6 1131.8,892.2 1132.8,884.0 1133.8,888.3 1134.7,893.0 1135.7,892.1 1136.6,894.7 1137.5,880.2 1138.5,882.9 1139.5,892.5 1140.4,892.7 1141.3,891.6 1142.3,884.9 1143.2,893.0 1143.6,888.3 1144.1,882.1 1144.2,880.9 1144.6,882.8 1145.1,884.7 1145.2,884.8 1145.6,882.5 1146.1,879.3 1146.6,879.4 1147.0,877.7 1147.1,877.3 1147.6,874.3 1148.0,877.5 1148.1,878.0 1148.6,881.3 1149.0,883.1 1149.1,884.5 1149.6,888.4 1149.9,890.3 1150.1,890.8 1150.6,891.5 1150.8,891.8 1151.1,888.6 1151.6,881.6 1151.8,878.6 1152.8,892.6 1153.7,892.1 1154.7,891.3 1155.6,894.3 1156.5,891.5 1157.5,894.8 1158.5,892.2 1159.4,892.0 1160.3,893.5 1161.3,891.9 1162.2,880.5 1163.2,893.4 1164.2,893.8 1165.1,894.5 1166.0,891.0 1167.0,892.6 1168.0,893.6 1168.9,891.7 1169.8,889.6 1170.8,882.3 1171.8,893.1 1172.7,893.5 1173.7,890.9 1174.6,892.4 1175.5,896.2 1176.5,889.3 1177.5,885.3 1178.4,890.2 1179.3,880.6 1180.3,885.6 1181.2,885.1 1182.2,890.7 1183.2,890.0 1184.1,882.5 1185.0,892.4 1186.0,884.9 1187.0,894.5 1187.9,891.2 1188.8,891.9 1189.8,880.1 1190.8,891.1 1191.7,894.0 1192.7,889.8 1193.6,877.5 1194.5,890.7 1195.5,878.1 1196.5,878.8 1197.4,878.6 1198.3,890.0 1199.3,891.3 1200.2,890.8 1201.2,894.3 1202.2,893.0 1203.1,890.9 1204.0,890.9 1205.0,894.4 1206.0,883.6 1206.9,891.6 1207.8,892.0 1208.8,882.8 1209.8,892.2 1210.7,885.2 1211.7,877.2 1212.6,886.2 1213.5,889.5 1214.5,891.6 1215.5,890.1 1216.4,894.7 1217.3,877.0 1218.3,892.6 1219.2,892.1 1220.2,894.8 1221.2,894.0 1222.1,892.7 1223.0,892.5 1224.0,889.9 1224.6,891.3 1225.0,892.0 1225.1,892.0 1225.6,891.9 1225.9,891.7 1226.1,891.5 1226.6,890.4 1226.8,889.5 1227.1,887.9 1227.6,884.3 1227.8,882.8 1228.1,881.4 1228.6,879.3 1228.8,880.5 1229.1,881.9 1229.6,885.3 1229.7,886.0 1230.1,886.4 1230.6,884.7 1230.7,884.4 1231.1,887.2 1231.6,890.9 1232.1,884.6 1232.5,878.2 1232.6,878.8 1233.5,891.1 1234.5,891.8 1235.4,878.0 1236.3,878.4 1237.3,878.9 1238.2,880.0 1239.2,891.8 1240.2,891.8 1241.1,877.0 1242.0,893.4 1243.0,891.0 1244.0,893.1 1244.9,893.4 1245.8,888.4 1246.8,884.5 1247.8,878.4 1248.7,878.9 1249.7,885.4 1250.6,877.8 1251.5,885.5 1252.5,891.5 1253.5,893.5 1254.4,890.5 1255.3,878.3 1256.3,884.8 1257.2,891.6 1258.2,890.7 1259.2,882.5 1260.1,892.5 1261.0,890.3 1262.0,882.5 1263.0,891.1 1263.9,891.9 1264.8,890.5 1265.8,883.9 1266.8,892.9 1267.7,892.5 1268.7,876.8 1269.6,891.4 1270.5,883.7 1271.5,893.3 1272.5,879.3 1273.4,879.1 1274.3,889.9 1275.3,886.2 1276.2,890.6 1277.2,878.1 1278.2,886.4 1279.1,881.3 1280.0,890.6 1281.0,880.0 1282.0,878.7 1282.9,890.5 1283.8,889.8 1284.8,891.9 1285.8,877.9 1286.7,891.1 1287.7,885.6 1288.6,883.0 1289.5,890.7 1290.5,889.8 1291.5,890.6 1292.4,879.8 1293.3,891.9 1294.3,877.5 1295.2,893.6 1296.2,890.4 1297.2,891.2 1298.1,881.1 1299.0,879.6 1300.0,889.9 1301.0,890.6 1301.9,894.3 1302.8,890.4 1303.8,891.2 1304.8,894.5 1305.7,880.0 1306.7,890.6 1307.6,876.7 1308.5,890.5 1309.5,890.7 1310.5,882.6 1311.4,890.4 1312.3,890.4 1313.3,878.1 1314.2,890.8 1315.2,893.1 1316.2,884.7"/>
<circle cx="296.5" cy="610.5" r="10.5"/>
<circle cx="342.5" cy="574.4" r="10.5"/>
<circle cx="355.0" cy="640.0" r="10.5"/>
<circle cx="368.5" cy="654.0" r="10.5"/>
<circle cx="412.5" cy="130.5" r="10.5"/>
<circle cx="422.5" cy="667.5" r="10.5"/>
<circle cx="433.5" cy="369.4" r="10.5"/>
<circle cx="475.4" cy="602.2" r="10.5"/>
<circle cx="526.3" cy="606.3" r="10.5"/>
<circle cx="543.4" cy="460.4" r="10.5"/>
<circle cx="568.4" cy="522.3" r="10.5"/>
<circle cx="583.4" cy="451.3" r="10.5"/>
<circle cx="607.4" cy="564.4" r="10.5"/>
<circle cx="624.4" cy="536.3" r="10.5"/>
<circle cx="674.4" cy="590.4" r="10.5"/>
<circle cx="721.3" cy="683.4" r="10.5"/>
<circle cx="792.3" cy="671.6" r="10.5"/>
<circle cx="818.3" cy="693.0" r="10.5"/>
<circle cx="886.4" cy="633.3" r="10.5"/>
<circle cx="1066.4" cy="644.4" r="10.5"/>
<circle cx="1101.5" cy="692.4" r="10.5"/>
<circle cx="1140.3" cy="659.2" r="10.5"/>
<circle cx="1164.2" cy="667.3" r="10.5"/>
<circle cx="1206.2" cy="689.3" r="10.5"/>
<circle cx="1232.6" cy="659.2" r="10.5"/>
<circle cx="1265.4" cy="674.1" r="10.5"/>
<circle cx="241.4" cy="828.2" r="10.5"/>
<circle cx="281.6" cy="842.2" r="10.5"/>
<circle cx="351.4" cy="803.3" r="10.5"/>
<circle cx="410.3" cy="817.3" r="10.5"/>
<circle cx="434.4" cy="785.1" r="10.5"/>
<circle cx="482.5" cy="812.5" r="10.5"/>
<circle cx="522.5" cy="859.6" r="10.5"/>
<circle cx="564.6" cy="844.6" r="10.5"/>
<circle cx="575.9" cy="805.6" r="10.5"/>
<circle cx="608.7" cy="826.6" r="10.5"/>
<circle cx="629.8" cy="853.4" r="10.5"/>
<circle cx="679.4" cy="864.4" r="10.5"/>
<circle cx="890.5" cy="864.2" r="10.5"/>
<circle cx="1227.4" cy="860.5" r="10.5"/>
<path d="M414.50,85.36 L418.40,97.30 L428.56,97.30 L420.36,103.29 L424.03,114.53 L414.50,107.57 L404.97,114.53 L408.64,103.29 L400.44,97.30 L410.60,97.30 Z M414.50,91.63 L416.99,99.25 L422.59,99.25 L418.07,102.55 L420.30,109.39 L414.50,105.15 L408.70,109.39 L410.93,102.55 L406.41,99.25 L412.01,99.25 Z" fill="#000" fill-rule="evenodd"/>
<path d="M505.50,107.36 L509.40,119.30 L519.56,119.30 L511.36,125.29 L515.03,136.53 L505.50,129.57 L495.97,136.53 L499.64,125.29 L491.44,119.30 L501.60,119.30 Z M505.50,113.63 L507.99,121.25 L513.59,121.25 L509.07,124.55 L511.30,131.39 L505.50,127.15 L499.70,131.39 L501.93,124.55 L497.41,121.25 L503.01,121.25 Z" fill="#000" fill-rule="evenodd"/>
<path d="M584.40,405.36 L588.30,417.30 L598.46,417.30 L590.26,423.29 L593.93,434.53 L584.40,427.57 L574.87,434.53 L578.54,423.29 L570.34,417.30 L580.50,417.30 Z M584.40,411.63 L586.89,419.25 L592.49,419.25 L587.97,422.55 L590.20,429.39 L584.40,425.15 L578.60,429.39 L580.83,422.55 L576.31,419.25 L581.91,419.25 Z" fill="#000" fill-rule="evenodd"/>
<path d="M625.60,487.36 L629.50,499.30 L639.66,499.30 L631.46,505.29 L635.13,516.53 L625.60,509.57 L616.07,516.53 L619.74,505.29 L611.54,499.30 L621.70,499.30 Z M625.60,493.63 L628.09,501.25 L633.69,501.25 L629.17,504.55 L631.40,511.39 L625.60,507.15 L619.80,511.39 L622.03,504.55 L617.51,501.25 L623.11,501.25 Z" fill="#000" fill-rule="evenodd"/>
<path d="M637.50,547.36 L641.40,559.30 L651.56,559.30 L643.36,565.29 L647.03,576.53 L637.50,569.57 L627.97,576.53 L631.64,565.29 L623.44,559.30 L633.60,559.30 Z M637.50,553.63 L639.99,561.25 L645.59,561.25 L641.07,564.55 L643.30,571.39 L637.50,567.15 L631.70,571.39 L633.93,564.55 L629.41,561.25 L635.01,561.25 Z" fill="#000" fill-rule="evenodd"/>
<path d="M1066.40,594.36 L1070.30,606.30 L1080.46,606.30 L1072.26,612.29 L1075.93,623.53 L1066.40,616.57 L1056.87,623.53 L1060.54,612.29 L1052.34,606.30 L1062.50,606.30 Z M1066.40,600.63 L1068.89,608.25 L1074.49,608.25 L1069.97,611.55 L1072.20,618.39 L1066.40,614.15 L1060.60,618.39 L1062.83,611.55 L1058.31,608.25 L1063.91,608.25 Z" fill="#000" fill-rule="evenodd"/>
<path d="M508.40,819.36 L512.30,831.30 L522.46,831.30 L514.26,837.29 L517.93,848.53 L508.40,841.57 L498.87,848.53 L502.54,837.29 L494.34,831.30 L504.50,831.30 Z M508.40,825.63 L510.89,833.25 L516.49,833.25 L511.97,836.55 L514.20,843.39 L508.40,839.15 L502.60,843.39 L504.83,836.55 L500.31,833.25 L505.91,833.25 Z" fill="#000" fill-rule="evenodd"/>
<path d="M543.60,835.66 L547.50,847.60 L557.66,847.60 L549.46,853.59 L553.13,864.83 L543.60,857.87 L534.07,864.83 L537.74,853.59 L529.54,847.60 L539.70,847.60 Z M543.60,841.93 L546.09,849.55 L551.69,849.55 L547.17,852.85 L549.40,859.69 L543.60,855.45 L537.80,859.69 L540.03,852.85 L535.51,849.55 L541.11,849.55 Z" fill="#000" fill-rule="evenodd"/>
<path d="M577.40,764.66 L581.30,776.60 L591.46,776.60 L583.26,782.59 L586.93,793.83 L577.40,786.87 L567.87,793.83 L571.54,782.59 L563.34,776.60 L573.50,776.60 Z M577.40,770.93 L579.89,778.55 L585.49,778.55 L580.97,781.85 L583.20,788.69 L577.40,784.45 L571.60,788.69 L573.83,781.85 L569.31,778.55 L574.91,778.55 Z" fill="#000" fill-rule="evenodd"/>
<path d="M1020.40,840.36 L1024.30,852.30 L1034.46,852.30 L1026.26,858.29 L1029.93,869.53 L1020.40,862.57 L1010.87,869.53 L1014.54,858.29 L1006.34,852.30 L1016.50,852.30 Z M1020.40,846.63 L1022.89,854.25 L1028.49,854.25 L1023.97,857.55 L1026.20,864.39 L1020.40,860.15 L1014.60,864.39 L1016.83,857.55 L1012.31,854.25 L1017.91,854.25 Z" fill="#000" fill-rule="evenodd"/>
<path d="M353.50,755.36 L357.40,767.30 L367.56,767.30 L359.36,773.29 L363.03,784.53 L353.50,777.57 L343.97,784.53 L347.64,773.29 L339.44,767.30 L349.60,767.30 Z"/>
<path d="M458.30,823.16 L462.20,835.10 L472.36,835.10 L464.16,841.09 L467.83,852.33 L458.30,845.37 L448.77,852.33 L452.44,841.09 L444.24,835.10 L454.40,835.10 Z"/>
<path d="M505.60,789.36 L509.50,801.30 L519.66,801.30 L511.46,807.29 L515.13,818.53 L505.60,811.57 L496.07,818.53 L499.74,807.29 L491.54,801.30 L501.70,801.30 Z"/>
<path d="M1146.40,835.36 L1150.30,847.30 L1160.46,847.30 L1152.26,853.29 L1155.93,864.53 L1146.40,857.57 L1136.87,864.53 L1140.54,853.29 L1132.34,847.30 L1142.50,847.30 Z"/>
<rect x="161.4" y="937" width="3.6" height="7"/>
<rect x="250.1" y="928" width="3.6" height="16"/>
<rect x="338.8" y="937" width="3.6" height="7"/>
<rect x="427.5" y="928" width="3.6" height="16"/>
<rect x="516.2" y="937" width="3.6" height="7"/>
<rect x="604.9" y="928" width="3.6" height="16"/>
<rect x="693.6" y="937" width="3.6" height="7"/>
<rect x="782.3" y="928" width="3.6" height="16"/>
<rect x="871.0" y="937" width="3.6" height="7"/>
<rect x="959.7" y="928" width="3.6" height="16"/>
<rect x="1048.4" y="937" width="3.6" height="7"/>
<rect x="1137.1" y="928" width="3.6" height="16"/>
<rect x="1225.8" y="937" width="3.6" height="7"/>
<text x="74.5" y="999" text-anchor="middle" class="t" font-size="44.5">20</text>
<text x="251.9" y="999" text-anchor="middle" class="t" font-size="44.5">30</text>
<text x="429.3" y="999" text-anchor="middle" class="t" font-size="44.5">40</text>
<text x="606.7" y="999" text-anchor="middle" class="t" font-size="44.5">50</text>
<text x="784.1" y="999" text-anchor="middle" class="t" font-size="44.5">60</text>
<text x="961.5" y="999" text-anchor="middle" class="t" font-size="44.5">70</text>
<text x="1138.9" y="999" text-anchor="middle" class="t" font-size="44.5">80</text>
<text x="1316.3" y="999" text-anchor="middle" class="t" font-size="44.5">90</text>
<text x="703" y="1051" text-anchor="middle" class="t" font-size="48">2θ/(°)</text>
<text transform="translate(44,652) rotate(-90)" x="0" y="0" class="t" font-size="48">Intensity(a.u.)</text>
<text x="82" y="689" class="t" font-size="48.4">powder</text>
<text x="80.2" y="850" class="t" font-size="48.5">coating</text>
<circle cx="771.5" cy="54.4" r="9.6"/>
<rect x="785" y="55" width="43" height="2.2"/>
<path d="M772.40,104.93 L776.00,116.44 L785.37,116.44 L777.81,122.20 L781.20,133.02 L772.40,126.32 L763.60,133.02 L766.99,122.20 L759.43,116.44 L768.80,116.44 Z"/>
<rect x="788" y="117.7" width="43" height="2.2"/>
<path d="M772.40,168.13 L776.00,179.64 L785.37,179.64 L777.81,185.40 L781.20,196.22 L772.40,189.52 L763.60,196.22 L766.99,185.40 L759.43,179.64 L768.80,179.64 Z M772.40,174.15 L774.68,181.44 L780.03,181.44 L775.71,184.73 L777.79,191.36 L772.40,187.26 L767.01,191.36 L769.09,184.73 L764.77,181.44 L770.12,181.44 Z" fill="#000" fill-rule="evenodd"/>
<rect x="788" y="180.9" width="43" height="2.2"/>
<text x="828" y="67" class="t" font-size="43.4">Cr<tspan font-size="28" dy="12">3</tspan><tspan dy="-12">C</tspan><tspan font-size="28" dy="12">2</tspan><tspan dy="-12"> (JCPDF 3-065-2427)</tspan></text>
<text x="831" y="128.2" class="t" font-size="43.4">Cr<tspan font-size="28" dy="12">7</tspan><tspan dy="-12">C</tspan><tspan font-size="28" dy="12">3</tspan><tspan dy="-12"> (JCPDF 38-1479)</tspan></text>
<text x="831.6" y="192.2" class="t" font-size="43.0">(Ni,Cr) (JCPDF 4-850)</text>
</g>
</svg>
</body></html>
